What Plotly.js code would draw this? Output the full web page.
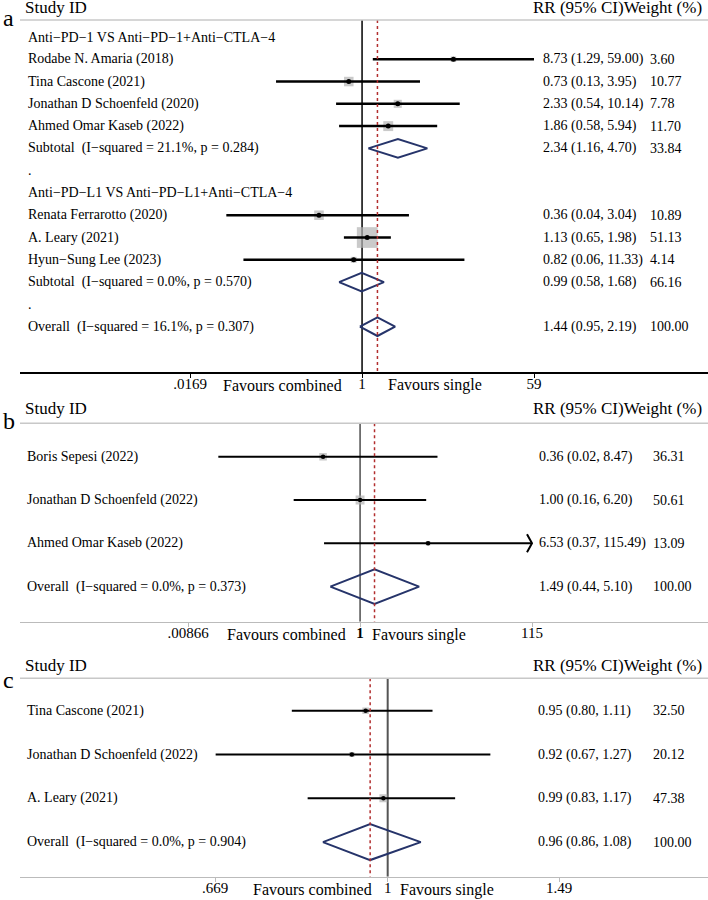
<!DOCTYPE html>
<html><head><meta charset="utf-8">
<script src="https://cdn.plot.ly/plotly-3.0.1.min.js"></script>
<style>html,body{margin:0;padding:0;background:#fff}#chart{width:708px;height:900px}</style>
</head><body><div id="chart"></div>
<script>
// ---------- Panel a ----------
const aLabels = [
  'Anti−PD−1 VS Anti−PD−1+Anti−CTLA−4',
  'Rodabe N. Amaria (2018)',
  'Tina Cascone (2021)',
  'Jonathan D Schoenfeld (2020)',
  'Ahmed Omar Kaseb (2022)',
  'Subtotal\u00a0 (I−squared = 21.1%, p = 0.284)',
  '.',
  'Anti−PD−L1 VS Anti−PD−L1+Anti−CTLA−4',
  'Renata Ferrarotto (2020)',
  'A. Leary (2021)',
  'Hyun−Sung Lee (2023)',
  'Subtotal\u00a0 (I−squared = 0.0%, p = 0.570)',
  '.',
  'Overall\u00a0 (I−squared = 16.1%, p = 0.307)'
];
const aType = ['group','study','study','study','study','pooled','blank','group','study','study','study','pooled','blank','pooled'];
const aRR     = [null, 8.73, 0.73, 2.33, 1.86, 2.34, null, null, 0.36, 1.13, 0.82, 0.99, null, 1.44];
const aLo     = [null, 1.29, 0.13, 0.54, 0.58, 1.16, null, null, 0.04, 0.65, 0.06, 0.58, null, 0.95];
const aHi     = [null, 59.00, 3.95, 10.14, 5.94, 4.70, null, null, 3.04, 1.98, 11.33, 1.68, null, 2.19];
const aWeight = [null, 3.60, 10.77, 7.78, 11.70, 33.84, null, null, 10.89, 51.13, 4.14, 66.16, null, 100.00];
const aTickVals = [0.0169, 1, 59];
const aTickText = ['.0169', '1', '59'];

// ---------- Panel b ----------
const bLabels = ['Boris Sepesi (2022)', 'Jonathan D Schoenfeld (2022)', 'Ahmed Omar Kaseb (2022)', 'Overall\u00a0 (I−squared = 0.0%, p = 0.373)'];
const bType = ['study','study','study','pooled'];
const bRR     = [0.36, 1.00, 6.53, 1.49];
const bLo     = [0.02, 0.16, 0.37, 0.44];
const bHi     = [8.47, 6.20, 115.49, 5.10];
const bWeight = [36.31, 50.61, 13.09, 100.00];
const bTickVals = [0.00866, 1, 115];
const bTickText = ['.00866', '<b>1</b>', '115'];

// ---------- Panel c ----------
const cLabels = ['Tina Cascone (2021)', 'Jonathan D Schoenfeld (2022)', 'A. Leary (2021)', 'Overall\u00a0 (I−squared = 0.0%, p = 0.904)'];
const cType = ['study','study','study','pooled'];
const cRR     = [0.95, 0.92, 0.99, 0.96];
const cLo     = [0.80, 0.67, 0.83, 0.86];
const cHi     = [1.11, 1.27, 1.17, 1.08];
const cWeight = [32.50, 20.12, 47.38, 100.00];
const cTickVals = [0.669, 1, 1.49];
const cTickText = ['.669', '1', '1.49'];

// ---------- layout geometry / styles ----------
const W = 708, H = 900, plotLeft = 20;
const FONT = 'Liberation Serif';
const panels = [
  {letter:'a', labels:aLabels, type:aType, rr:aRR, lo:aLo, hi:aHi, w:aWeight, tv:aTickVals, tt:aTickText,
   top:20, bottom:372, row0:37, step:22.28, tickL:190, tickR:534, labelX:27, rrX:542, wX:649, headY:8, letterY:18,
   boxK:2.9, dot:5, ciW:2.5, nullColor:'#000', nullW:1.5, baseColor:'#000', favL:19, favR:25, diaH:0.42},
  {letter:'b', labels:bLabels, type:bType, rr:bRR, lo:bLo, hi:bHi, w:bWeight, tv:bTickVals, tt:bTickText,
   top:423.3, bottom:621.7, row0:456.7, step:43.33, tickL:188, tickR:532, labelX:26, rrX:538, wX:652, headY:408, letterY:421,
   boxK:1.25, dot:4.5, ciW:2, nullColor:'#333', nullW:1.3, baseColor:'#bbb', favL:13, favR:11, diaH:0.4},
  {letter:'c', labels:cLabels, type:cType, rr:cRR, lo:cLo, hi:cHi, w:cWeight, tv:cTickVals, tt:cTickText,
   top:678.3, bottom:876.7, row0:710.7, step:43.8, tickL:215, tickR:559, labelX:26, rrX:537, wX:652, headY:665, letterY:680,
   boxK:1.15, dot:4.5, ciW:2, nullColor:'#555', nullW:2, baseColor:'#bbb', favL:15, favR:11, diaH:0.41}
];

const data = [], annotations = [], shapes = [];
const layout = {
  width: W, height: H, margin: {l:0, r:0, t:0, b:0},
  paper_bgcolor: '#fff', plot_bgcolor: 'rgba(0,0,0,0)', showlegend: false,
  font: {family: FONT, color: '#000'}
};

function f2(v){ return v.toFixed(2); }

panels.forEach((p, i) => {
  const sfx = i === 0 ? '' : String(i + 1);
  const xa = 'x' + sfx, ya = 'y' + sfx;
  const lt0 = Math.log10(p.tv[0]), lt1 = Math.log10(p.tv[p.tv.length - 1]);
  const scale = (p.tickR - p.tickL) / (lt1 - lt0);
  const range = [lt0 - (p.tickL - plotLeft) / scale, lt1 + (W - p.tickR) / scale];
  const yBot = (p.bottom - p.row0) / p.step, yTop = (p.top - p.row0) / p.step;

  layout['xaxis' + sfx] = {
    type: 'log', domain: [plotLeft / W, 1], range: range, anchor: ya,
    tickmode: 'array', tickvals: p.tv, ticktext: p.tt,
    ticks: 'outside', ticklen: 4, tickwidth: 1, tickcolor: p.baseColor,
    ticklabelstandoff: -7,
    showline: true, linecolor: p.baseColor, linewidth: 1.5,
    showgrid: false, zeroline: false, automargin: false, fixedrange: true,
    tickfont: {family: FONT, size: 15, color: '#000'}
  };
  layout['yaxis' + sfx] = {
    domain: [1 - p.bottom / H, 1 - p.top / H], range: [yBot, yTop], anchor: xa,
    showline: false, showgrid: false, zeroline: false, showticklabels: false, ticks: '',
    automargin: false, fixedrange: true
  };

  const rows = p.labels.map((_, k) => k);
  const xmin = p.tv[0], xmax = p.tv[p.tv.length - 1];
  const overallIdx = p.type.lastIndexOf('pooled');
  const overall = p.rr[overallIdx];
  const st = rows.filter(k => p.type[k] === 'study');
  const common = {type: 'scatter', xaxis: xa, yaxis: ya, hoverinfo: 'skip', showlegend: false};

  // null line
  data.push(Object.assign({}, common, {mode: 'lines', x: [1, 1], y: [yTop, yBot], line: {color: p.nullColor, width: p.nullW}}));
  // weight boxes
  data.push(Object.assign({}, common, {mode: 'markers', x: st.map(k => p.rr[k]), y: st,
    marker: {symbol: 'square', size: st.map(k => p.boxK * Math.sqrt(p.w[k])), color: '#b4b4b4', line: {width: 0}}}));
  // CI lines
  const cx = [], cy = [];
  st.forEach(k => { cx.push(Math.max(p.lo[k], xmin), Math.min(p.hi[k], xmax), null); cy.push(k, k, null); });
  data.push(Object.assign({}, common, {mode: 'lines', x: cx, y: cy, line: {color: '#000', width: p.ciW}}));
  // arrows for clipped CIs
  const ax = [], ay = [];
  const fac = Math.pow(10, 5 / scale), dy = 9 / p.step;
  st.forEach(k => {
    if (p.hi[k] > xmax) { ax.push(xmax / fac, xmax, xmax / fac, null); ay.push(k - dy, k, k + dy, null); }
    if (p.lo[k] < xmin) { ax.push(xmin * fac, xmin, xmin * fac, null); ay.push(k - dy, k, k + dy, null); }
  });
  if (ax.length) data.push(Object.assign({}, common, {mode: 'lines', x: ax, y: ay, line: {color: '#000', width: p.ciW}}));
  // point estimates
  data.push(Object.assign({}, common, {mode: 'markers', x: st.map(k => p.rr[k]), y: st,
    marker: {symbol: 'circle', size: p.dot, color: '#000', line: {width: 0}}}));
  // diamonds
  const dx = [], dyy = [];
  rows.filter(k => p.type[k] === 'pooled').forEach(k => {
    dx.push(p.lo[k], p.rr[k], p.hi[k], p.rr[k], p.lo[k], null);
    dyy.push(k, k - p.diaH, k, k + p.diaH, k, null);
  });
  data.push(Object.assign({}, common, {mode: 'lines', x: dx, y: dyy, line: {color: '#26346a', width: 2}}));
  // overall dashed line
  data.push(Object.assign({}, common, {mode: 'lines', x: [overall, overall], y: [yTop, yBot],
    line: {color: '#b22e2e', width: 1.5, dash: '3px,3px'}}));

  // top rule
  shapes.push({type: 'line', xref: 'paper', yref: 'paper', x0: plotLeft / W, x1: 1,
    y0: 1 - p.top / H, y1: 1 - p.top / H, line: {color: '#c8c8c8', width: 1.5}});

  const txt = (o) => annotations.push(Object.assign({showarrow: false, borderpad: 0, font: {family: FONT, size: 14, color: '#000'}}, o));
  // panel letter and headers
  txt({text: p.letter, xref: 'paper', yref: 'paper', x: 2 / W, y: 1 - p.letterY / H, xanchor: 'left', yanchor: 'middle', font: {family: FONT, size: 24, color: '#000'}});
  txt({text: 'Study ID', xref: 'paper', yref: 'paper', x: 24 / W, y: 1 - p.headY / H, xanchor: 'left', yanchor: 'middle', font: {family: FONT, size: 17, color: '#000'}});
  txt({text: 'RR (95% CI)Weight (%)', xref: 'paper', yref: 'paper', x: 532 / W, y: 1 - p.headY / H, xanchor: 'left', yanchor: 'middle', font: {family: FONT, size: 17, color: '#000'}});
  // row texts
  rows.forEach(k => {
    txt({text: p.labels[k], xref: 'paper', yref: ya, x: p.labelX / W, y: k, xanchor: 'left', yanchor: 'middle'});
    if (p.rr[k] !== null) {
      txt({text: f2(p.rr[k]) + ' (' + f2(p.lo[k]) + ', ' + f2(p.hi[k]) + ')', xref: 'paper', yref: ya, x: p.rrX / W, y: k, xanchor: 'left', yanchor: 'middle'});
      txt({text: f2(p.w[k]), xref: 'paper', yref: ya, x: p.wX / W, y: k, xanchor: 'left', yanchor: 'middle'});
    }
  });
  // favours labels
  const favY = 1 - (p.bottom + 13) / H;
  txt({text: 'Favours combined', xref: xa, yref: 'paper', x: 0, y: favY, xanchor: 'right', yanchor: 'middle', xshift: -p.favL, font: {family: FONT, size: 16, color: '#000'}});
  txt({text: 'Favours single', xref: xa, yref: 'paper', x: 0, y: favY, xanchor: 'left', yanchor: 'middle', xshift: p.favR, font: {family: FONT, size: 16, color: '#000'}});
});

layout.annotations = annotations;
layout.shapes = shapes;
Plotly.newPlot('chart', data, layout, {staticPlot: true, displayModeBar: false});
</script>
</body></html>
